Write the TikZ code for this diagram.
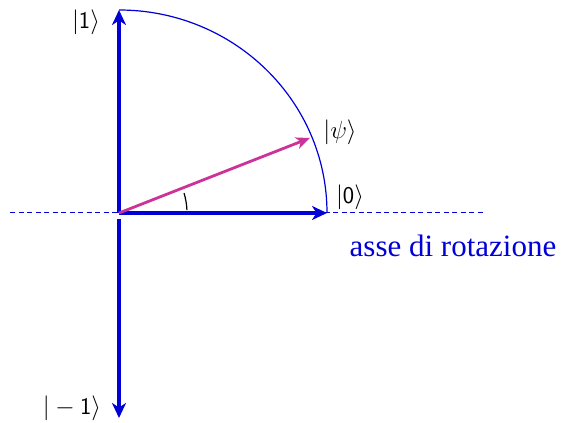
\documentclass[tikz,border=0pt]{standalone}
\usepackage{fontspec}
\newfontfamily\serifti{Liberation Serif}
\usetikzlibrary{arrows.meta,calc}
\definecolor{vblue}{RGB}{0,0,215}
\definecolor{vmag}{RGB}{204,51,153}
\begin{document}
\begin{tikzpicture}[x=1pt,y=1pt,
  vec/.style={line width=3.3pt,-{Stealth[length=15pt,width=14pt,inset=4.5pt]}},
  lbl/.style={font=\fontsize{24}{28}\selectfont,inner sep=0pt}]
\useasboundingbox (0,0) rectangle (563,423);
\coordinate (O) at (119,210);
\coordinate (E0) at (327,210);
\coordinate (E1) at (119,413);
\coordinate (Em) at (119,5);
\coordinate (P) at (310,285);
\coordinate (DL) at (10,210);
\coordinate (DR) at (483,210);
\draw[vblue,line width=1pt,dash pattern=on 5pt off 3.5pt] (DL) -- (DR);
\draw[vblue,line width=1.2pt] (E0) arc[start angle=0,end angle=90,x radius=208,y radius=203];
\draw[vblue,vec] (O) -- (E0);
\draw[vblue,vec] (O) -- (E1);
\draw[vblue,vec] ([yshift=-6pt]O) -- (Em);
\draw[vmag,line width=2.8pt,-{Stealth[length=14pt,width=12pt,inset=4pt]}] (O) -- (P);
\draw[black,line width=1.2pt] ($(O)+(2.5:68)$) arc[start angle=2.5,end angle=17,radius=68];
\node[lbl] (l1) at (86,401) {$\mathsf{|1\rangle}$};
\node[lbl] (lp) at (340,291) {$\mathsf{|}\psi\mathsf{\rangle}$};
\node[lbl] (l0) at (350,226) {$\mathsf{|0\rangle}$};
\node[lbl] (lm) at (72,15) {$\mathsf{|-1\rangle}$};
\node[inner sep=0pt,text=vblue,font=\serifti\fontsize{31}{36}\selectfont] (ax) at (453,177) {asse di rotazione};
\end{tikzpicture}
\end{document}
